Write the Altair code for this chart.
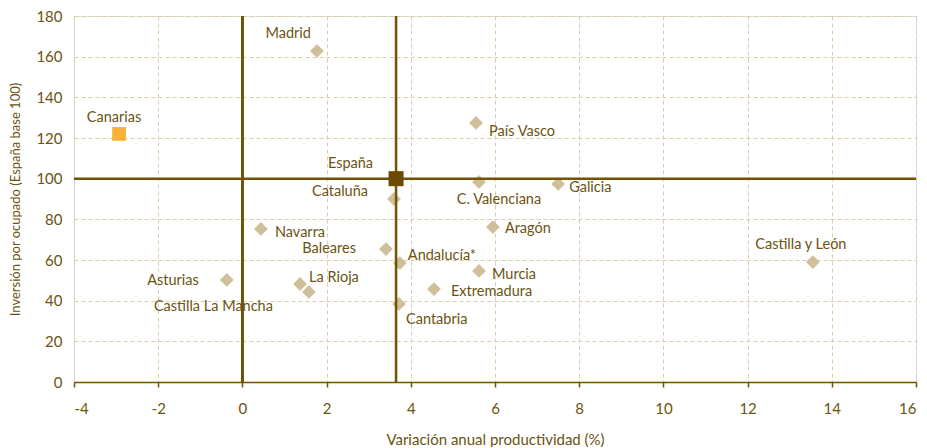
import altair as alt
import pandas as pd

# ---- data ----
regions = ["Madrid", "Canarias", "País Vasco", "España", "Cataluña", "C. Valenciana",
           "Galicia", "Aragón", "Navarra", "Baleares", "Andalucía*", "Murcia",
           "Extremadura", "Cantabria", "Castilla y León", "Asturias", "La Rioja",
           "Castilla La Mancha"]
productividad = [1.77, -2.93, 5.55, 3.65, 3.60, 5.62, 7.50, 5.95, 0.44, 3.41, 3.74, 5.62,
                 4.55, 3.72, 13.55, -0.37, 1.37, 1.58]
inversion = [162.8, 122.0, 127.4, 100.0, 90.0, 98.4, 97.4, 76.2, 75.3, 65.4, 58.5, 54.6,
             45.7, 38.4, 59.0, 50.2, 48.2, 44.3]
grupo = ["region", "canarias", "region", "espana", "region", "region", "region", "region",
         "region", "region", "region", "region", "region", "region", "region", "region",
         "region", "region"]
x_ticks = [-4, -2, 0, 2, 4, 6, 8, 10, 12, 14, 16]
y_ticks = [0, 20, 40, 60, 80, 100, 120, 140, 160, 180]

df = pd.DataFrame({"region": regions, "x": productividad, "y": inversion, "grupo": grupo})

# ---- styling ----
FONT = "Lato"
TXT = "#6b5310"
DARK = "#735200"
GRID = "#dccdaa"
DIAMOND = "#cfc09b"

# label placement: (align, dx, dy)
label_pos = {
    "Madrid": ("right", -6, -17),
    "Canarias": ("center", -5, -16),
    "País Vasco": ("left", 13, 9),
    "España": ("right", -23, -15),
    "Cataluña": ("right", -26, -7),
    "C. Valenciana": ("center", 20, 18),
    "Galicia": ("left", 11, 4),
    "Aragón": ("left", 12, 2),
    "Navarra": ("left", 14, 4),
    "Baleares": ("right", -30, 0),
    "Andalucía*": ("left", 8, -7),
    "Murcia": ("left", 13, 4),
    "Extremadura": ("left", 17, 3),
    "Cantabria": ("left", 7, 16),
    "Castilla y León": ("center", -12, -17),
    "Asturias": ("right", -28, 1),
    "La Rioja": ("left", 9, -6),
    "Castilla La Mancha": ("right", -36, 15),
}

xs = alt.Scale(domain=[-4, 16], nice=False, zero=False)
ys = alt.Scale(domain=[0, 180], nice=False)

xenc = alt.X("x:Q", scale=xs, title="Variación anual productividad (%)",
             axis=alt.Axis(values=x_ticks, grid=True, gridColor=GRID, gridDash=[4, 3],
                           gridWidth=1, domainColor=DARK, domainWidth=1.5,
                           tickColor=DARK, tickSize=5, tickWidth=1.5,
                           labelExpr="'' + datum.value",
                           labelPadding=14, labelFontSize=15, labelColor=TXT,
                           labelFont=FONT, titleFont=FONT, titleFontSize=15,
                           titleFontWeight="normal", titleColor=TXT, titlePadding=16))
yenc = alt.Y("y:Q", scale=ys, title="Inversión por ocupado (España base 100)",
             axis=alt.Axis(values=y_ticks, grid=True, gridColor=GRID, gridDash=[4, 3],
                           gridWidth=1, domain=False, ticks=False,
                           labelPadding=12, labelFontSize=15, labelColor=TXT,
                           labelFont=FONT, titleFont=FONT, titleFontSize=13,
                           titleFontWeight="normal", titleColor=TXT, titlePadding=13))

base = alt.Chart(df)

zero_line = base.mark_rule(color=DARK, strokeWidth=1.5).encode(
    x=alt.datum(0, scale=xs), y=alt.datum(0), y2=alt.datum(180))
esp = base.transform_filter(alt.datum.grupo == "espana")
vline = esp.mark_rule(color=DARK, strokeWidth=2.5).encode(
    x=alt.X("x:Q", scale=xs), y=alt.datum(0), y2=alt.datum(180))
hline = esp.mark_rule(color=DARK, strokeWidth=2.5).encode(
    y=alt.Y("y:Q", scale=ys), x=alt.datum(-4), x2=alt.datum(16))

diamonds = base.transform_filter(alt.datum.grupo == "region").mark_point(
    shape="diamond", filled=True, size=190, color=DIAMOND, opacity=1).encode(x=xenc, y=yenc)
canarias = base.transform_filter(alt.datum.grupo == "canarias").mark_square(
    size=190, color="#fbb03b", opacity=1).encode(x=xenc, y=yenc)
espana = esp.mark_square(size=225, color="#6b4a00", opacity=1).encode(x=xenc, y=yenc)

labels = []
for name, (al, dx, dy) in label_pos.items():
    labels.append(
        base.transform_filter(alt.datum.region == name).mark_text(
            align=al, baseline="middle", dx=dx, dy=dy, font=FONT, fontSize=14.5, color=TXT
        ).encode(x=alt.X("x:Q", scale=xs), y=alt.Y("y:Q", scale=ys), text="region:N")
    )

chart = alt.layer(
    diamonds, zero_line, vline, hline, canarias, espana, *labels
).properties(
    width=842, height=366,
    padding={"left": 1, "top": 1, "right": 0, "bottom": 0}
).configure_view(stroke=None).configure(background="white")

chart.save("out.html", embed_options={"renderer": "svg", "actions": False})
